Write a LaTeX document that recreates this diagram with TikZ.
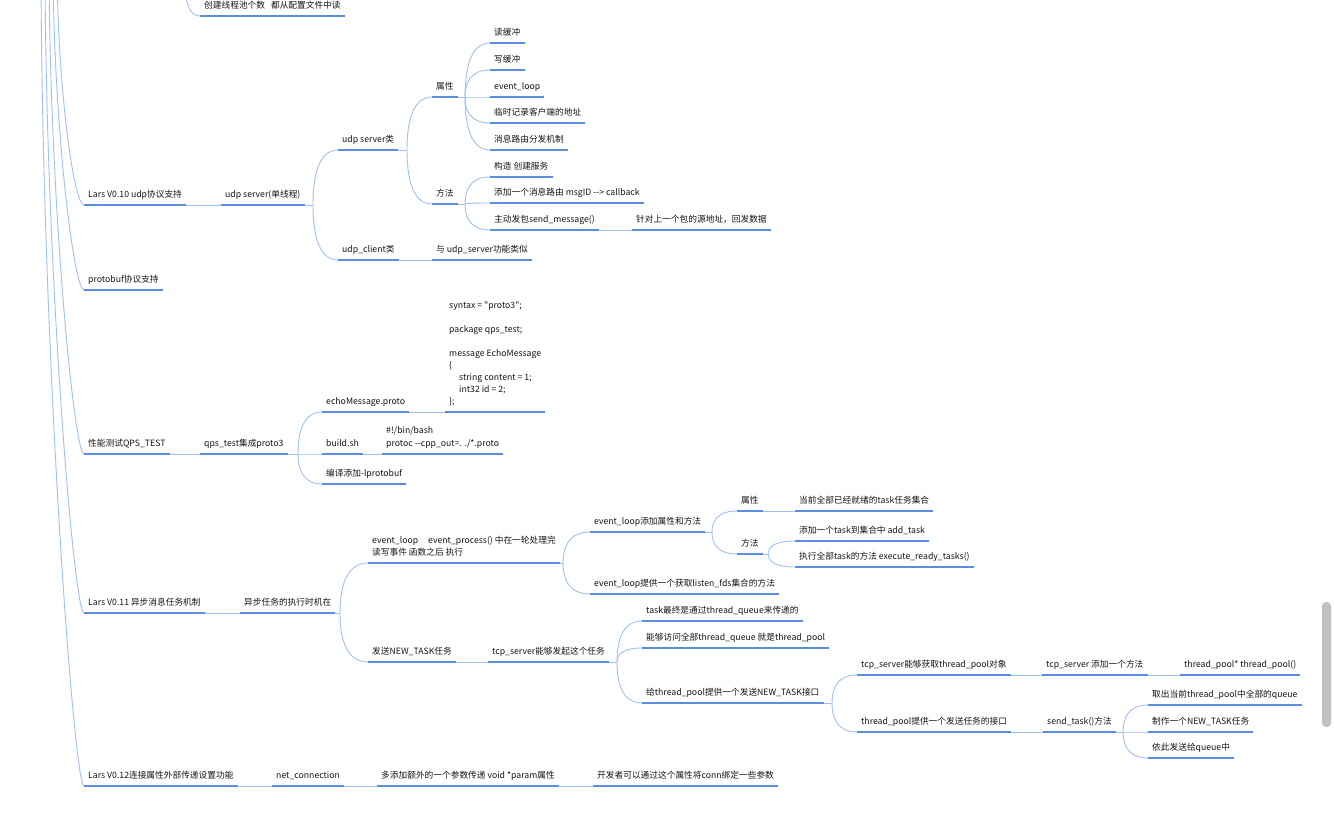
\documentclass[tikz,border=0pt]{standalone}
\usepackage{fontspec}
\setmainfont{Noto Sans CJK SC}[Ligatures=TeXOff]
\usetikzlibrary{calc}
\definecolor{ulc}{RGB}{90,141,220}
\definecolor{cnc}{RGB}{160,192,238}
\definecolor{txc}{RGB}{20,20,20}
\definecolor{sbc}{RGB}{193,193,193}
\newcommand{\fsz}{\fontsize{8.7}{12}\selectfont}
\tikzset{
  ul/.style={draw=ulc, line width=2pt},
  conn/.style={draw=cnc, line width=0.9pt},
  mm/.style={anchor=south west, inner xsep=4pt, inner ysep=5pt, text depth=2pt,
    font=\fsz, text=txc, align=left,
    append after command={(\tikzlastnode.south west) edge[ul] (\tikzlastnode.south east)}},
}
% curve from branch coordinate #1 to child node #2
\newcommand{\brc}[2]{\draw[conn] (#1) .. controls ($(#1)!0.5!(#1 |- #2.south west)$) and ($(#1 |- #2.south west)!0.2!(#2.south west)$) .. (#2.south west);}
% straight link between two nodes
\newcommand{\lnk}[2]{\draw[conn] (#1.south east) -- (#2.south west);}
% stem from parent node to branch coordinate
\newcommand{\stm}[2]{\draw[conn] (#1.south east) -- (#2);}
\begin{document}
\begin{tikzpicture}[x=1pt, y=-1pt]
\useasboundingbox (0,0) rectangle (1334,819);
\clip (0,0) rectangle (1334,819);

% ---------- top partial node ----------
\node[mm] (t0) at (200,16) {创建线程池个数\hspace{6pt}都从配置文件中读};
\coordinate (tc) at (184,-20);
\draw[conn] (tc) .. controls (186,8) and (191,16) .. (t0.south west);

% ---------- level 1 nodes ----------
\node[mm] (a1) at (84,205) {Lars V0.10 udp协议支持};
\node[mm] (b1) at (84,290) {protobuf协议支持};
\node[mm] (c1) at (84,454) {性能测试QPS\_TEST};
\node[mm] (d1) at (84,613) {Lars V0.11 异步消息任务机制};
\node[mm] (e1) at (84,786) {Lars V0.12连接属性外部传递设置功能};

% root curves (root lies above the visible area)
\coordinate (r1) at (57,-30);
\coordinate (r2) at (53,-30);
\coordinate (r3) at (49,-30);
\coordinate (r4) at (45,-30);
\coordinate (r5) at (41,-30);
\draw[conn] (r1) .. controls (58,92) and (74,205) .. (a1.south west);
\draw[conn] (r2) .. controls (54,130) and (74,290) .. (b1.south west);
\draw[conn] (r3) .. controls (50,204) and (74,454) .. (c1.south west);
\draw[conn] (r4) .. controls (46,276) and (74,613) .. (d1.south west);
\draw[conn] (r5) .. controls (42,354) and (74,786) .. (e1.south west);

% ---------- Lars V0.10 ----------
\node[mm] (a2) at (221,205) {udp server(单线程)};
\node[mm] (a3) at (338,150) {udp server类};
\node[mm] (a4) at (338,260) {udp\_client类};
\node[mm] (a5) at (432,97) {属性};
\node[mm] (a6) at (432,204) {方法};
\node[mm] (a7) at (490,43) {读缓冲};
\node[mm] (a8) at (490,70) {写缓冲};
\node[mm] (a9) at (490,97) {event\_loop};
\node[mm] (a10) at (490,123) {临时记录客户端的地址};
\node[mm] (a11) at (490,150) {消息路由分发机制};
\node[mm] (a12) at (490,177) {构造 创建服务};
\node[mm] (a13) at (490,203) {添加一个消息路由 msgID --> callback};
\node[mm] (a14) at (490,230) {主动发包send\_message()};
\node[mm] (a15) at (632,230) {针对上一个包的源地址，回发数据};
\node[mm] (a16) at (432,260) {与 udp\_server功能类似};

\lnk{a1}{a2}
\coordinate (ba2) at (313,205);
\stm{a2}{ba2}
\brc{ba2}{a3}
\brc{ba2}{a4}
\coordinate (ba3) at (407,150);
\stm{a3}{ba3}
\brc{ba3}{a5}
\brc{ba3}{a6}
\coordinate (ba5) at (465,97);
\stm{a5}{ba5}
\brc{ba5}{a7}
\brc{ba5}{a8}
\brc{ba5}{a9}
\brc{ba5}{a10}
\brc{ba5}{a11}
\coordinate (ba6) at (465,204);
\stm{a6}{ba6}
\brc{ba6}{a12}
\brc{ba6}{a13}
\brc{ba6}{a14}
\lnk{a14}{a15}
\lnk{a4}{a16}

% ---------- 性能测试 ----------
\node[mm] (c2) at (200,454) {qps\_test集成proto3};
\node[mm] (c3) at (322,412) {echoMessage.proto};
\node[mm] (c4) at (445,412) {syntax = "proto3";\\[12pt]package qps\_test;\\[12pt]message EchoMessage\\\{\\\hspace*{10pt}string content = 1;\\\hspace*{10pt}int32 id = 2;\\\};};
\node[mm] (c5) at (322,454) {build.sh};
\node[mm, font=\fontsize{8.7}{13}\selectfont] (c6) at (382,454) {\#!/bin/bash\\protoc --cpp\_out=. ./*.proto};
\node[mm] (c7) at (322,484) {编译添加-lprotobuf};

\lnk{c1}{c2}
\coordinate (bc2) at (298,454);
\stm{c2}{bc2}
\brc{bc2}{c3}
\brc{bc2}{c5}
\brc{bc2}{c7}
\lnk{c3}{c4}
\lnk{c5}{c6}

% ---------- Lars V0.11 ----------
\node[mm] (d2) at (240,613) {异步任务的执行时机在};
\node[mm] (d3) at (368,563) {event\_loop\hspace{10pt}event\_process() 中在一轮处理完\\读写事件 函数之后 执行};
\node[mm] (d4) at (368,662) {发送NEW\_TASK任务};
\node[mm] (d5) at (488,662) {tcp\_server能够发起这个任务};
\node[mm] (d6) at (590,532) {event\_loop添加属性和方法};
\node[mm] (d7) at (590,594) {event\_loop提供一个获取listen\_fds集合的方法};
\node[mm] (d8) at (737,511) {属性};
\node[mm] (d9) at (795,511) {当前全部已经就绪的task任务集合};
\node[mm] (d10) at (737,554) {方法};
\node[mm] (d11) at (795,541) {添加一个task到集合中 add\_task};
\node[mm] (d12) at (795,567) {执行全部task的方法 execute\_ready\_tasks()};
\node[mm] (d13) at (642,621) {task最终是通过thread\_queue来传递的};
\node[mm] (d14) at (642,648) {能够访问全部thread\_queue 就是thread\_pool};
\node[mm] (d15) at (642,703) {给thread\_pool提供一个发送NEW\_TASK接口};
\node[mm] (d16) at (857,675) {tcp\_server能够获取thread\_pool对象};
\node[mm] (d17) at (857,732) {thread\_pool提供一个发送任务的接口};
\node[mm] (d18) at (1042,675) {tcp\_server 添加一个方法};
\node[mm] (d19) at (1180,675) {thread\_pool* thread\_pool()};
\node[mm] (d20) at (1043,732) {send\_task()方法};
\node[mm] (d21) at (1148,705) {取出当前thread\_pool中全部的queue};
\node[mm] (d22) at (1148,732) {制作一个NEW\_TASK任务};
\node[mm] (d23) at (1148,758) {依此发送给queue中};

\lnk{d1}{d2}
\coordinate (bd2) at (340,613);
\stm{d2}{bd2}
\brc{bd2}{d3}
\brc{bd2}{d4}
\coordinate (bd3) at (563,563);
\stm{d3}{bd3}
\brc{bd3}{d6}
\brc{bd3}{d7}
\coordinate (bd6) at (712,532);
\stm{d6}{bd6}
\brc{bd6}{d8}
\brc{bd6}{d10}
\lnk{d8}{d9}
\coordinate (bd10) at (768,554);
\stm{d10}{bd10}
\brc{bd10}{d11}
\brc{bd10}{d12}
\lnk{d4}{d5}
\coordinate (bd5) at (617,662);
\stm{d5}{bd5}
\brc{bd5}{d13}
\brc{bd5}{d14}
\brc{bd5}{d15}
\coordinate (bd15) at (832,703);
\stm{d15}{bd15}
\brc{bd15}{d16}
\brc{bd15}{d17}
\lnk{d16}{d18}
\lnk{d18}{d19}
\lnk{d17}{d20}
\coordinate (bd20) at (1123,732);
\stm{d20}{bd20}
\brc{bd20}{d21}
\brc{bd20}{d22}
\brc{bd20}{d23}

% ---------- Lars V0.12 ----------
\node[mm] (e2) at (272,786) {net\_connection};
\node[mm] (e3) at (377,786) {多添加额外的一个参数传递 void *param属性};
\node[mm] (e4) at (593,786) {开发者可以通过这个属性将conn绑定一些参数};
\lnk{e1}{e2}
\lnk{e2}{e3}
\lnk{e3}{e4}

% ---------- scrollbar ----------
\fill[sbc, rounded corners=4pt] (1322,602) rectangle (1331,727);
\end{tikzpicture}
\end{document}
